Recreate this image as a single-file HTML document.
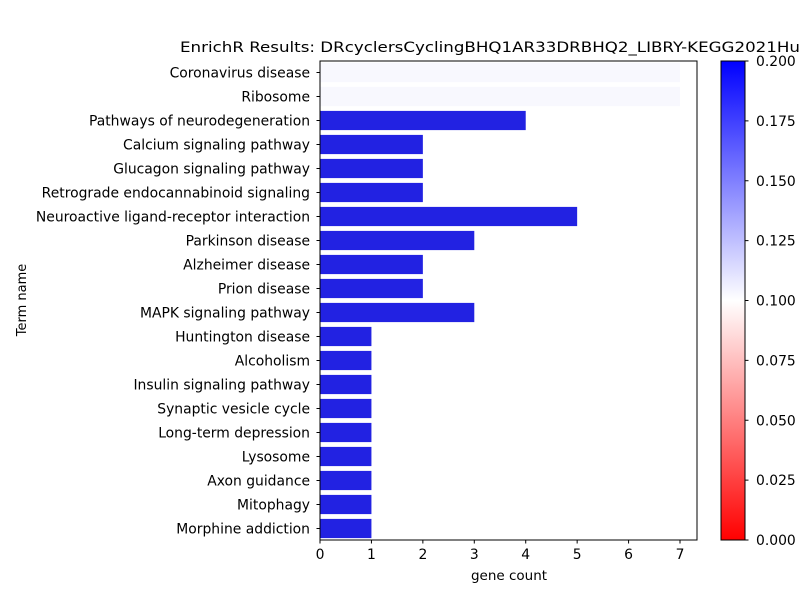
<!DOCTYPE html>
<html><head><meta charset="utf-8"><style>body{margin:0;background:#fff}svg{font-family:"DejaVu Sans","Liberation Sans",sans-serif}</style></head>
<body>
<svg id="chart" width="800" height="600" viewBox="0 0 800 600">
<defs><linearGradient id="cb" x1="0" y1="1" x2="0" y2="0"><stop offset="0" stop-color="#ff0000"/><stop offset="0.5" stop-color="#ffffff"/><stop offset="1" stop-color="#0000ff"/></linearGradient></defs>
<text x="180" y="52" font-size="14.4" textLength="620" lengthAdjust="spacingAndGlyphs">EnrichR Results: DRcyclersCyclingBHQ1AR33DRBHQ2_LIBRY-KEGG2021Hu</text>
<g id="bars"></g>
<rect x="320" y="61" width="377" height="479" fill="none" stroke="#000" stroke-width="1"/>
<g id="axes"></g>
<text x="0" y="0" font-size="13" text-anchor="middle" transform="translate(26,300) rotate(-90)">Term name</text>
<text x="509" y="580" font-size="13.5" text-anchor="middle">gene count</text>
<rect x="721" y="61" width="24" height="479" fill="url(#cb)" stroke="#000" stroke-width="1"/>
<g id="cbticks"></g>
</svg>
<script>
const terms=["Coronavirus disease","Ribosome","Pathways of neurodegeneration","Calcium signaling pathway","Glucagon signaling pathway","Retrograde endocannabinoid signaling","Neuroactive ligand-receptor interaction","Parkinson disease","Alzheimer disease","Prion disease","MAPK signaling pathway","Huntington disease","Alcoholism","Insulin signaling pathway","Synaptic vesicle cycle","Long-term depression","Lysosome","Axon guidance","Mitophagy","Morphine addiction"];
const counts=[7,7,4,2,2,2,5,3,2,2,3,1,1,1,1,1,1,1,1,1];
const pvals=[0.1027,0.1027,0.1867,0.1867,0.1867,0.1867,0.1867,0.1867,0.1867,0.1867,0.1867,0.1867,0.1867,0.1867,0.1867,0.1867,0.1867,0.1867,0.1867,0.1867];
const xTicks=[0,1,2,3,4,5,6,7];
const cbTicks=[0,0.025,0.05,0.075,0.1,0.125,0.15,0.175,0.2];
const NS="http://www.w3.org/2000/svg";
const x=v=>320+v*51.43;
const y=i=>72.5+i*24;
const cbY=v=>540-v/0.2*479;
function color(v){let t=Math.max(0,Math.min(1,v/0.2));let r,g,b;if(t<0.5){r=255;g=b=Math.round(255*t*2);}else{b=255-Math.round(34*(t-0.5)*2);r=g=Math.round(255*(1-t)*2);}return `rgb(${r},${g},${b})`;}
function mk(tag,attrs,parent){const e=document.createElementNS(NS,tag);for(const k in attrs)e.setAttribute(k,attrs[k]);document.getElementById(parent).appendChild(e);return e;}
terms.forEach((t,i)=>{
 const r=mk('rect',{x:x(0),y:y(i)-9.6,width:x(counts[i])-x(0),height:19.2,fill:color(pvals[i])},'bars');
 
 
 const tk=mk('line',{x1:316.5,x2:320,y1:y(i),y2:y(i),stroke:'#000'},'axes');
 
 
 const l=mk('text',{x:310,y:y(i)+5,'font-size':13.9,'text-anchor':'end'},'axes');
 l.textContent=t;
 
 
});
xTicks.forEach(v=>{
 const tk=mk('line',{x1:x(v),x2:x(v),y1:540,y2:543.5,stroke:'#000'},'axes');
 
 
 const l=mk('text',{x:x(v),y:559,'font-size':13.9,'text-anchor':'middle'},'axes');
 l.textContent=v;
 
 
});
cbTicks.forEach(v=>{
 const tk=mk('line',{x1:745,x2:748.5,y1:cbY(v),y2:cbY(v),stroke:'#000'},'cbticks');
 
 
 const l=mk('text',{x:756,y:cbY(v)+5,'font-size':13.9},'cbticks');
 l.textContent=v.toFixed(3);
 
 
});
</script>
</body></html>
